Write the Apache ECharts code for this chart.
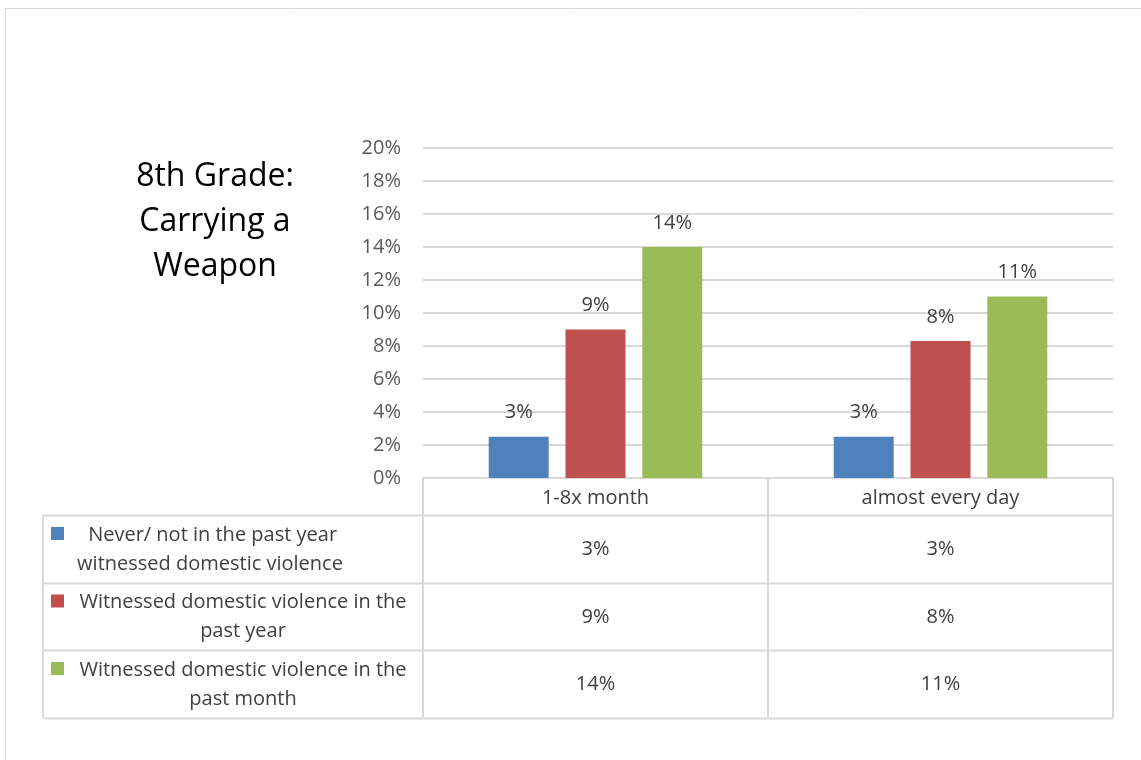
<!DOCTYPE html>
<html>
<head>
<meta charset="utf-8">
<script src="https://cdn.jsdelivr.net/npm/echarts@6/dist/echarts.min.js"></script>
<style>
  html, body { margin: 0; padding: 0; background: #fff; }
  #main { width: 1141px; height: 760px; }
</style>
</head>
<body>
<div id="main"></div>
<script>
var categories = ['1-8x month', 'almost every day'];
var seriesNames = [
  ' Never/ not in the past year\nwitnessed domestic violence',
  'Witnessed domestic violence in the\npast year',
  'Witnessed domestic violence in the\npast month'
];
var neverVals = [2.5, 2.5];
var pastYearVals = [9, 8.3];
var pastMonthVals = [14, 11];
var colors = ['#4f81bd', '#c0504d', '#9bbb59'];

var allVals = [neverVals, pastYearVals, pastMonthVals];
var font = '"Open Sans"';
var lineColor = '#d9d9d9';
var textColor = '#404040';

var gridLeft = 423, gridRight = 1113, gridTop = 148, gridBottom = 478;
var headerBottom = 515, rowH = 67.5, tableLeft = 43;

function pct(v) { return Math.round(v) + '%'; }

var chart = echarts.init(document.getElementById('main'));

var graphics = [];
// outer frame
graphics.push({ type: 'rect', shape: { x: 5.5, y: 8.5, width: 1200, height: 800 },
  style: { fill: 'none', stroke: '#d9d9d9', lineWidth: 1 }, silent: true });

var colW = (gridRight - gridLeft) / categories.length;
var vx = [tableLeft, gridLeft];
categories.forEach(function (c, j) { vx.push(gridLeft + colW * (j + 1)); });
var tableBottom = headerBottom + rowH * allVals.length;
for (var r = 0; r <= allVals.length; r++) {
  var y = Math.round(headerBottom + rowH * r) + 0.5;
  graphics.push({ type: 'line', shape: { x1: tableLeft, y1: y, x2: gridRight, y2: y },
    style: { stroke: lineColor, lineWidth: 2 }, silent: true });
}
vx.forEach(function (x) {
  graphics.push({ type: 'line', shape: { x1: x, y1: headerBottom, x2: x, y2: tableBottom },
    style: { stroke: lineColor, lineWidth: 2 }, silent: true });
});
allVals.forEach(function (vals, i) {
  var top = headerBottom + rowH * i;
  var cy = top + rowH / 2 + 1;
  graphics.push({ type: 'rect', shape: { x: 51, y: top + 12, width: 13, height: 13 },
    style: { fill: colors[i] }, silent: true });
  graphics.push({ type: 'text', x: i === 0 ? 210 : 243, y: cy,
    style: { text: seriesNames[i], font: '20px ' + font, fill: textColor,
      align: 'center', verticalAlign: 'middle', lineHeight: 29 }, silent: true });
  vals.forEach(function (v, j) {
    graphics.push({ type: 'text', x: gridLeft + colW * (j + 0.5), y: cy,
      style: { text: pct(v), font: '20px ' + font, fill: textColor,
        align: 'center', verticalAlign: 'middle' }, silent: true });
  });
});
// title
graphics.push({ type: 'text', x: 215, y: 222,
  style: { text: '8th Grade:\nCarrying a\nWeapon', font: '32px ' + font, fill: '#000',
    align: 'center', verticalAlign: 'middle', lineHeight: 45 }, silent: true });

var option = {
  animation: false,
  backgroundColor: '#fff',
  textStyle: { fontFamily: font },
  grid: { left: gridLeft, right: 1141 - gridRight, top: gridTop, bottom: 760 - gridBottom },
  xAxis: {
    type: 'category',
    data: categories,
    axisLine: { lineStyle: { color: lineColor, width: 2 } },
    axisTick: { show: true, length: headerBottom - gridBottom, lineStyle: { color: lineColor, width: 2 } },
    axisLabel: { fontSize: 20, color: textColor, margin: 10, fontFamily: font }
  },
  yAxis: {
    type: 'value',
    min: 0, max: 20, interval: 2,
    axisLabel: { formatter: '{value}%', fontSize: 20, color: '#595959', margin: 22, fontFamily: font },
    axisLine: { show: false },
    axisTick: { show: false },
    splitLine: { lineStyle: { color: lineColor, width: 2 } }
  },
  series: allVals.map(function (vals, i) {
    return {
      type: 'bar',
      name: seriesNames[i],
      data: vals,
      barWidth: 60,
      barGap: '28%',
      itemStyle: { color: colors[i] },
      label: { show: true, position: 'top', distance: 14, fontSize: 20, color: textColor,
        fontFamily: font, formatter: function (p) { return pct(p.value); } }
    };
  }),
  graphic: graphics
};
chart.setOption(option);
</script>
</body>
</html>
